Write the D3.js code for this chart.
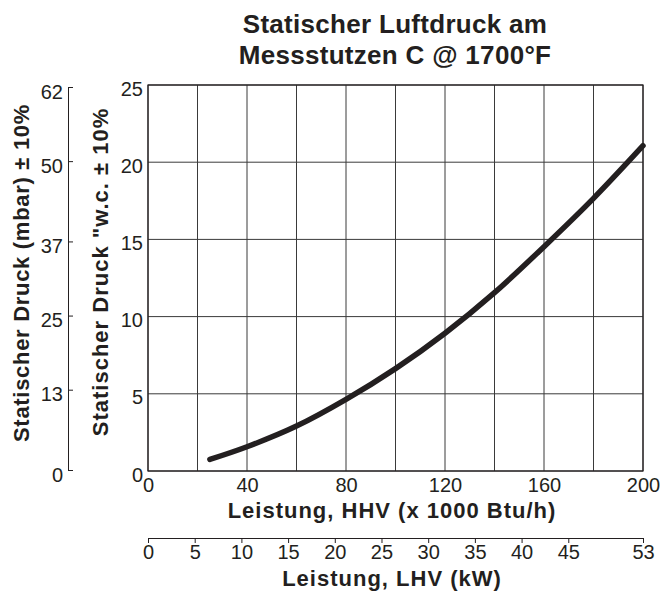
<!DOCTYPE html>
<html>
<head>
<meta charset="utf-8">
<script src="https://cdn.jsdelivr.net/npm/d3@7"></script>
<style>
  body { margin: 0; background: #fff; }
  svg text { font-family: "Liberation Sans", Arial, sans-serif; fill: #231f20; }
  .tick line, .domain { stroke: #231f20; }
</style>
</head>
<body>
<svg width="660" height="592"></svg>
<script>
// Leistung HHV (x 1000 Btu/h) vs. statischer Druck ("w.c.)
const hhv = [25, 40, 60, 80, 100, 120, 140, 160, 180, 200];
const druckWc = [0.75, 1.57, 2.91, 4.64, 6.63, 8.92, 11.55, 14.53, 17.66, 21.07];

const hhvTicks = [0, 40, 80, 120, 160, 200];
const hhvGrid = d3.range(0, 201, 20);
const wcTicks = [0, 5, 10, 15, 20, 25];
const mbarTicks = [0, 13, 25, 37, 50, 62];
const lhvTicks = [0, 5, 10, 15, 20, 25, 30, 35, 40, 45, 53];

const titleLines = ["Statischer Luftdruck am", "Messstutzen C @ 1700°F"];

const svg = d3.select("svg");
const margin = { top: 85, right: 17, bottom: 121, left: 148 };
const width = 660 - margin.left - margin.right;
const height = 592 - margin.top - margin.bottom;

const x = d3.scaleLinear().domain([0, 200]).range([margin.left, margin.left + width]);
const y = d3.scaleLinear().domain([0, 25]).range([margin.top + height, margin.top]);
const yMbar = d3.scaleLinear().domain([0, 62]).range([470, 87]);
const xLhv = d3.scaleLinear().domain([0, 53]).range([margin.left, margin.left + width]);

// Gitter
svg.append("g")
  .selectAll("line")
  .data(hhvGrid)
  .join("line")
  .attr("x1", d => x(d)).attr("x2", d => x(d))
  .attr("y1", y(0)).attr("y2", y(25))
  .attr("stroke", "#3a3a3a").attr("stroke-width", 1);

svg.append("g")
  .selectAll("line")
  .data(wcTicks)
  .join("line")
  .attr("x1", x(0)).attr("x2", x(200))
  .attr("y1", d => y(d)).attr("y2", d => y(d))
  .attr("stroke", "#3a3a3a").attr("stroke-width", 1);

svg.append("rect")
  .attr("x", x(0)).attr("y", y(25))
  .attr("width", width).attr("height", height)
  .attr("fill", "none").attr("stroke", "#231f20").attr("stroke-width", 1.2);

// Achsen
const xAxis = svg.append("g")
  .attr("transform", `translate(0,${y(0)})`)
  .call(d3.axisBottom(x).tickValues(hhvTicks).tickSize(0).tickPadding(7));
xAxis.select(".domain").remove();
xAxis.selectAll("text").attr("font-size", 20);

const yAxis = svg.append("g")
  .attr("transform", `translate(${x(0)},0)`)
  .call(d3.axisLeft(y).tickValues(wcTicks).tickSize(0).tickPadding(5));
yAxis.select(".domain").remove();
yAxis.selectAll("text").attr("font-size", 20).attr("dy", "0.5em");

const mbarAxis = svg.append("g")
  .attr("transform", "translate(68,0)")
  .call(d3.axisLeft(yMbar).tickValues(mbarTicks).tickSize(-5).tickSizeOuter(-5).tickPadding(5));
mbarAxis.selectAll("text").attr("font-size", 20).attr("dy", "0.55em");

const lhvAxis = svg.append("g")
  .attr("transform", "translate(0,538)")
  .call(d3.axisTop(xLhv).tickValues(lhvTicks).tickSize(-5).tickSizeOuter(-5));
lhvAxis.selectAll("text")
  .attr("font-size", 20)
  .attr("y", 7).attr("dy", "0.71em");

// Kurve
const line = d3.line()
  .x((d, i) => x(hhv[i]))
  .y(d => y(d))
  .curve(d3.curveCatmullRom);

svg.append("path")
  .datum(druckWc)
  .attr("fill", "none")
  .attr("stroke", "#231f20")
  .attr("stroke-width", 5.5)
  .attr("stroke-linecap", "round")
  .attr("d", line);

// Titel
svg.append("text")
  .attr("text-anchor", "middle")
  .attr("font-size", 26).attr("font-weight", "bold")
  .attr("letter-spacing", 0.3)
  .selectAll("tspan")
  .data(titleLines)
  .join("tspan")
  .attr("x", 395)
  .attr("y", (d, i) => 33 + i * 31)
  .text(d => d);

// Achsentitel
svg.append("text")
  .attr("x", 392).attr("y", 518)
  .attr("text-anchor", "middle")
  .attr("font-size", 22).attr("font-weight", "bold")
  .attr("letter-spacing", 1)
  .text("Leistung, HHV (x 1000 Btu/h)");

svg.append("text")
  .attr("x", 392).attr("y", 586)
  .attr("text-anchor", "middle")
  .attr("font-size", 22).attr("font-weight", "bold")
  .attr("letter-spacing", 1)
  .text("Leistung, LHV (kW)");

svg.append("text")
  .attr("transform", "translate(108,272) rotate(-90)")
  .attr("text-anchor", "middle")
  .attr("font-size", 22).attr("font-weight", "bold")
  .attr("letter-spacing", 1)
  .text("Statischer Druck \"w.c. ± 10%");

svg.append("text")
  .attr("transform", "translate(28.5,273) rotate(-90)")
  .attr("text-anchor", "middle")
  .attr("font-size", 22).attr("font-weight", "bold")
  .attr("letter-spacing", 0.7)
  .text("Statischer Druck (mbar) ± 10%");
</script>
</body>
</html>
